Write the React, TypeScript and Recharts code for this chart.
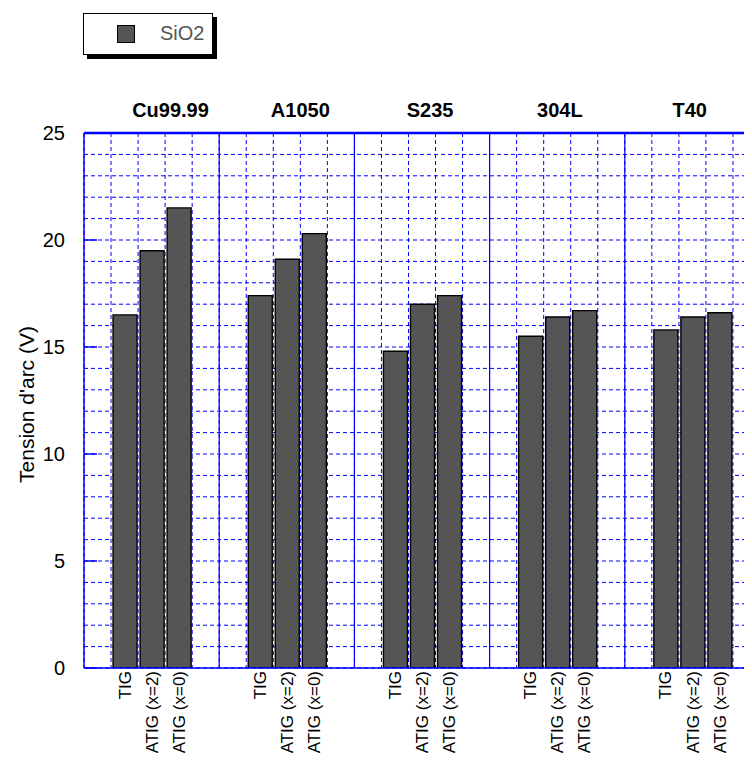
import React from "react";
import { BarChart, Bar, XAxis, YAxis, CartesianGrid, ReferenceLine, Legend } from "recharts";

const groups = ["Cu99.99", "A1050", "S235", "304L", "T40"];
const methods = ["TIG", "ATIG (x=2)", "ATIG (x=0)"];
const tigValues = [16.5, 17.4, 14.8, 15.5, 15.8];
const atig2Values = [19.5, 19.1, 17.0, 16.4, 16.4];
const atig0Values = [21.5, 20.3, 17.4, 16.7, 16.6];
const yTicks = [0, 5, 10, 15, 20, 25];
const yMax = 25;
const seriesName = "SiO2";
const yLabel = "Tension d'arc (V)";

const methodValues = [tigValues, atig2Values, atig0Values];
const slotsPerGroup = methods.length + 2;

type Row = { slot: string; label: string; group: string; value: number | null };
const data: Row[] = [];
groups.forEach((g, gi) => {
  data.push({ slot: `${g}-a`, label: "", group: g, value: null });
  methods.forEach((m, mi) => data.push({ slot: `${g}-${mi}`, label: m, group: g, value: methodValues[mi][gi] }));
  data.push({ slot: `${g}-b`, label: "", group: g, value: null });
});
const labelBySlot: Record<string, string> = {};
const groupBySlot: Record<string, string> = {};
data.forEach((r) => {
  labelBySlot[r.slot] = r.label;
  groupBySlot[r.slot] = r.group;
});

const slotCount = data.length;
const gridYValues = Array.from({ length: yMax + 1 }, (_, i) => i);
// title ticks sit on the middle slot of each group
const titleSlots = groups.map((_, i) => data[i * slotsPerGroup + Math.floor(slotsPerGroup / 2)].slot);
// layout: title shift (in slot widths) drifts slightly from left to right
const TITLE_SHIFT_START = 0.7;
const TITLE_SHIFT_STEP = -0.2;

const BLUE = "#0000ff";
const FONT = '"Liberation Sans", Arial, Helvetica, sans-serif';

function slotBoundaries(props: any, onlyGroups: boolean): number[] {
  const xAxis = props.xAxis || {};
  const offset = props.offset || {};
  const scale = xAxis.scale;
  const out: number[] = [];
  for (let i = 0; i <= slotCount; i++) {
    if (onlyGroups && (i % slotsPerGroup !== 0 || i === 0 || i === slotCount)) continue;
    let px: number;
    if (typeof scale === "function" && typeof scale.bandwidth === "function") {
      px = i < slotCount ? scale(data[i].slot) : scale(data[slotCount - 1].slot) + scale.bandwidth();
    } else {
      px = offset.left + (offset.width * i) / slotCount;
    }
    out.push(px);
  }
  return out;
}

function valueLines(props: any): number[] {
  const yAxis = props.yAxis || {};
  const offset = props.offset || {};
  const scale = yAxis.scale;
  return gridYValues.map((v) =>
    typeof scale === "function" ? scale(v) : offset.top + offset.height * (1 - v / yMax)
  );
}

const SlotTick = (props: any) => {
  const { x, y, payload } = props;
  const label = labelBySlot[payload.value] || "";
  return (
    <text
      x={0}
      y={0}
      transform={`translate(${x},${y}) rotate(-90)`}
      textAnchor="end"
      dy="0.36em"
      fontSize={17}
      fill="#000"
      fontFamily={FONT}
    >
      {label}
    </text>
  );
};

const TitleTick = (props: any) => {
  const { x, y, payload, width } = props;
  const g = groupBySlot[payload.value] || "";
  const gi = groups.indexOf(g);
  const band =
    payload && typeof payload.offset === "number" && payload.offset > 0
      ? payload.offset * 2
      : (width || 0) / slotCount;
  const shift = (TITLE_SHIFT_START + TITLE_SHIFT_STEP * gi) * band;
  return (
    <text
      x={x + shift}
      y={y}
      textAnchor="middle"
      fontSize={20}
      fontWeight="bold"
      fill="#000"
      fontFamily={FONT}
    >
      {g}
    </text>
  );
};

const LegendBox = (props: any) => {
  const item = (props.payload && props.payload[0]) || { value: seriesName, color: "#555555" };
  return (
    <div
      style={{
        position: "relative",
        width: 128,
        height: 40,
        border: "1px solid #000",
        background: "#fff",
        boxShadow: "4px 4px 0 #000",
        fontFamily: FONT,
      }}
    >
      <div
        style={{
          position: "absolute",
          left: 33,
          top: 11,
          width: 16,
          height: 16,
          background: "#555555",
          border: "1px solid #000",
        }}
      />
      <div
        style={{
          position: "absolute",
          left: 76,
          top: 8,
          fontSize: 20,
          lineHeight: "22px",
          color: "#555",
        }}
      >
        {item.value}
      </div>
    </div>
  );
};

const YLabel = (props: any) => {
  const vb = props.viewBox || { x: 0, y: 0, width: 0, height: 0 };
  const cx = vb.x + 18;
  const cy = vb.y + vb.height / 2 + 4;
  return (
    <text
      x={cx}
      y={cy}
      transform={`rotate(-90, ${cx}, ${cy})`}
      textAnchor="middle"
      dominantBaseline="central"
      fontSize={21}
      fill="#000"
      fontFamily={FONT}
    >
      {yLabel}
    </text>
  );
};

export default function App() {
  return (
    <div
      style={{
        position: "relative",
        width: 744,
        height: 745,
        overflow: "hidden",
        fontFamily: FONT,
        background: "#fff",
      }}
    >
      <BarChart
        width={770}
        height={745}
        data={data}
        margin={{ top: 95, right: 18, bottom: 0, left: 0 }}
        barCategoryGap={0}
      >
        <CartesianGrid
          stroke={BLUE}
          strokeDasharray="4 3"
          verticalCoordinatesGenerator={(p: any) => slotBoundaries(p, false)}
          horizontalCoordinatesGenerator={(p: any) => valueLines(p)}
        />
        <CartesianGrid
          stroke={BLUE}
          strokeWidth={1.2}
          horizontal={false}
          verticalCoordinatesGenerator={(p: any) => slotBoundaries(p, true)}
        />
        <XAxis
          xAxisId="top"
          orientation="top"
          dataKey="slot"
          ticks={titleSlots}
          interval={0}
          height={30}
          tickSize={0}
          tickMargin={16}
          axisLine={false}
          tickLine={false}
          tick={<TitleTick />}
        />
        <XAxis
          dataKey="slot"
          interval={0}
          tick={<SlotTick />}
          tickSize={0}
          tickMargin={3}
          height={85}
          axisLine={{ stroke: BLUE, strokeWidth: 1.5 }}
          tickLine={false}
        />
        <YAxis
          domain={[0, yMax]}
          ticks={yTicks}
          interval={0}
          allowDataOverflow
          width={76}
          tickSize={-13}
          tickMargin={32}
          axisLine={{ stroke: BLUE, strokeWidth: 1.5 }}
          tickLine={{ stroke: BLUE, strokeWidth: 1.5 }}
          tick={{ fontSize: 20, fill: "#000", fontFamily: FONT }}
          label={<YLabel />}
        />
        <ReferenceLine y={yMax} stroke={BLUE} strokeWidth={2.5} />
        <Legend
          layout="vertical"
          align="center"
          verticalAlign="middle"
          wrapperStyle={{ left: 75, top: 5, width: 140, height: 50 }}
          content={<LegendBox />}
        />
        <Bar
          dataKey="value"
          name={seriesName}
          fill="#555555"
          stroke="#000"
          strokeWidth={1.4}
          barSize={24}
          isAnimationActive={false}
        />
      </BarChart>
    </div>
  );
}
